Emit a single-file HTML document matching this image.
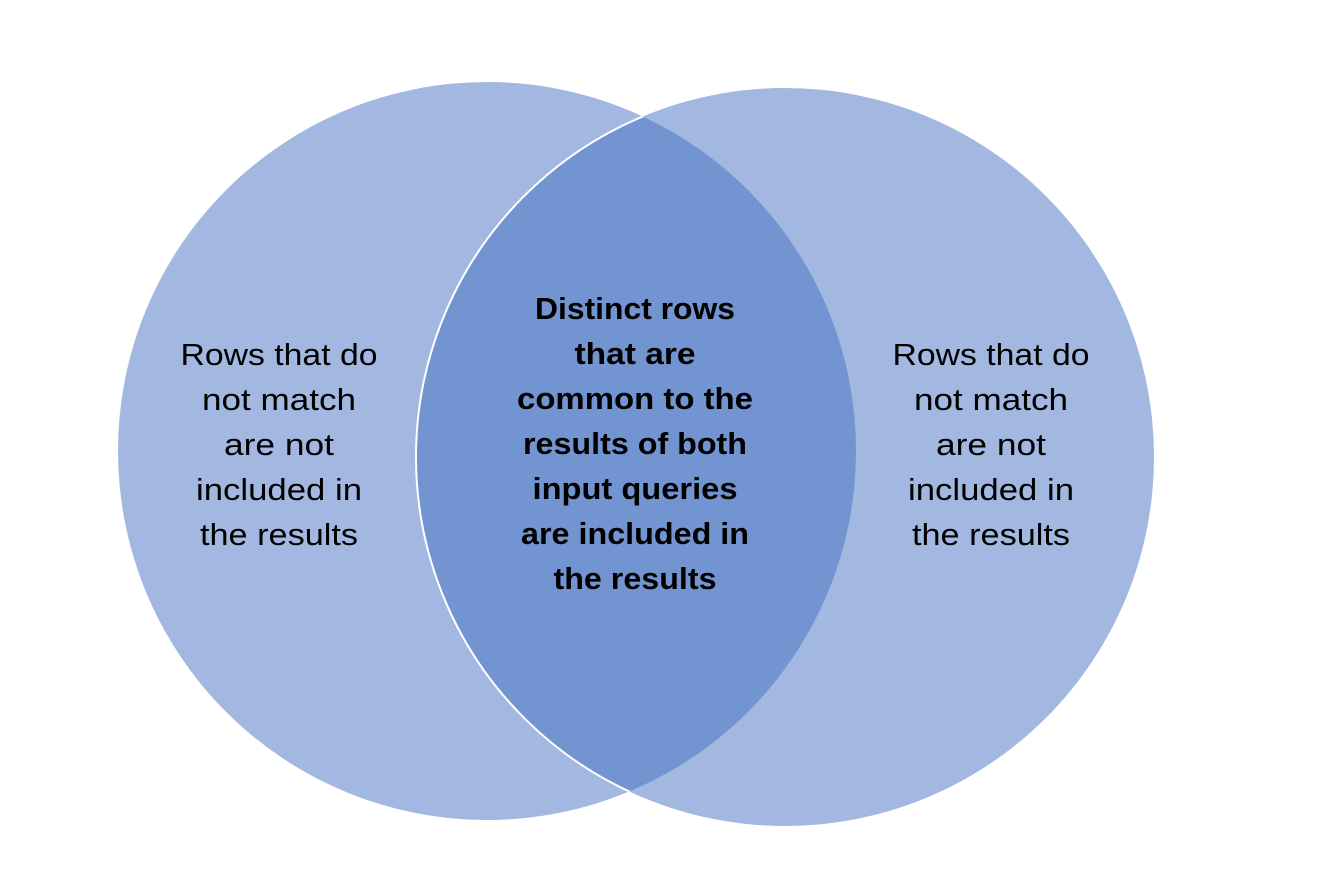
<!DOCTYPE html>
<html><head><meta charset="utf-8"><style>
html,body{margin:0;padding:0;background:#fff;}
svg{display:block;}
text{font-family:"Liberation Sans",sans-serif;font-size:31px;fill:#000;}
</style></head><body>
<svg width="1334" height="889" viewBox="0 0 1334 889" xmlns="http://www.w3.org/2000/svg">
<defs>
<clipPath id="lc"><circle cx="487" cy="451" r="369"/></clipPath>
</defs>
<circle cx="487" cy="451" r="369" fill="#A2B8E0"/>
<circle cx="785" cy="457" r="369" fill="#A2B8E0"/>
<circle cx="785" cy="457" r="369" fill="#7294D0" clip-path="url(#lc)"/>
<circle cx="785" cy="457" r="369" fill="none" stroke="#fff" stroke-width="2" clip-path="url(#lc)"/>
<g text-anchor="middle">
<text x="279" y="365" textLength="197" lengthAdjust="spacingAndGlyphs">Rows that do</text>
<text x="279" y="410" textLength="154" lengthAdjust="spacingAndGlyphs">not match</text>
<text x="279" y="455" textLength="110" lengthAdjust="spacingAndGlyphs">are not</text>
<text x="279" y="500" textLength="166" lengthAdjust="spacingAndGlyphs">included in</text>
<text x="279" y="545" textLength="158" lengthAdjust="spacingAndGlyphs">the results</text>
<text x="991" y="365" textLength="197" lengthAdjust="spacingAndGlyphs">Rows that do</text>
<text x="991" y="410" textLength="154" lengthAdjust="spacingAndGlyphs">not match</text>
<text x="991" y="455" textLength="110" lengthAdjust="spacingAndGlyphs">are not</text>
<text x="991" y="500" textLength="166" lengthAdjust="spacingAndGlyphs">included in</text>
<text x="991" y="545" textLength="158" lengthAdjust="spacingAndGlyphs">the results</text>
<g style="font-weight:bold">
<text x="635" y="319" textLength="200" lengthAdjust="spacingAndGlyphs">Distinct rows</text>
<text x="635" y="364" textLength="121" lengthAdjust="spacingAndGlyphs">that are</text>
<text x="635" y="409" textLength="236" lengthAdjust="spacingAndGlyphs">common to the</text>
<text x="635" y="454" textLength="224" lengthAdjust="spacingAndGlyphs">results of both</text>
<text x="635" y="499" textLength="205" lengthAdjust="spacingAndGlyphs">input queries</text>
<text x="635" y="544" textLength="228" lengthAdjust="spacingAndGlyphs">are included in</text>
<text x="635" y="589" textLength="163" lengthAdjust="spacingAndGlyphs">the results</text>
</g>
</g>
</svg>
</body></html>
